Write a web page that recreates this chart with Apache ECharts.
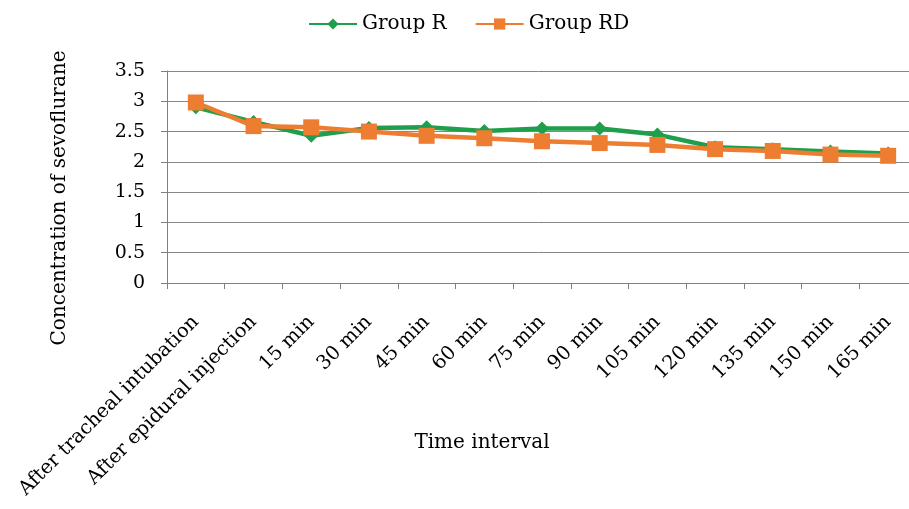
<!DOCTYPE html>
<html>
<head>
<meta charset="utf-8">
<script src="https://cdn.jsdelivr.net/npm/echarts@6/dist/echarts.min.js"></script>
<style>
  html, body { margin: 0; padding: 0; background: #ffffff; overflow: hidden; }
  #chart { width: 909px; height: 509px; }
</style>
</head>
<body>
<div id="chart"></div>
<script>
// Time points after intubation
const categories = [
  'After tracheal intubation', 'After epidural injection', '15 min', '30 min',
  '45 min', '60 min', '75 min', '90 min', '105 min', '120 min', '135 min',
  '150 min', '165 min'
];
// Sevoflurane concentration per group
const groupR  = [2.90, 2.66, 2.43, 2.56, 2.57, 2.51, 2.55, 2.55, 2.45, 2.24, 2.21, 2.17, 2.14];
const groupRD = [2.98, 2.59, 2.57, 2.50, 2.43, 2.39, 2.34, 2.31, 2.28, 2.21, 2.18, 2.12, 2.10];
const yTicks = [0, 0.5, 1, 1.5, 2, 2.5, 3, 3.5];

const FONT = '"DejaVu Serif", "Liberation Serif", serif';
const GREEN = '#1F9E4B';
const ORANGE = '#ED7D31';

const chart = echarts.init(document.getElementById('chart'));
chart.setOption({
  animation: false,
  backgroundColor: '#ffffff',
  textStyle: { fontFamily: FONT, color: '#000' },
  legend: {
    top: 9,
    left: 303,
    itemWidth: 48,
    itemHeight: 14,
    itemGap: 28,
    textStyle: { fontFamily: FONT, fontSize: 20, color: '#000' },
    data: ['Group R', 'Group RD']
  },
  // plot area runs slightly past the right edge of the canvas
  grid: {
    left: 167, width: 750, top: 71, bottom: 226,
    outerBoundsMode: 'none',
    containLabel: false
  },
  xAxis: {
    type: 'category',
    data: categories,
    boundaryGap: true,
    axisLine: { lineStyle: { color: '#808080', width: 1 } },
    axisTick: { show: true, length: 6, lineStyle: { color: '#808080' } },
    axisLabel: {
      rotate: 45,
      interval: 0,
      margin: 36,
      fontFamily: FONT,
      fontSize: 19.5,
      color: '#000'
    }
  },
  yAxis: {
    type: 'value',
    min: yTicks[0],
    max: yTicks[yTicks.length - 1],
    interval: 0.5,
    axisLine: { show: true, lineStyle: { color: '#808080', width: 1 } },
    axisTick: { show: true, length: 6, lineStyle: { color: '#808080' } },
    splitLine: { lineStyle: { color: '#868686', width: 1 } },
    axisLabel: { fontFamily: FONT, fontSize: 19, color: '#000', margin: 22 }
  },
  graphic: [
    {
      type: 'text',
      x: 60, y: 198,
      rotation: Math.PI / 2,
      style: {
        text: 'Concentration of sevoflurane',
        font: '20px ' + FONT,
        fill: '#000',
        textAlign: 'center',
        textVerticalAlign: 'middle'
      }
    },
    {
      type: 'text',
      x: 482, y: 443,
      style: {
        text: 'Time interval',
        font: '20px ' + FONT,
        fill: '#000',
        textAlign: 'center',
        textVerticalAlign: 'middle'
      }
    }
  ],
  series: [
    {
      name: 'Group R',
      type: 'line',
      data: groupR,
      symbol: 'diamond',
      symbolSize: 14,
      itemStyle: { color: GREEN },
      lineStyle: { color: GREEN, width: 4.5 },
      z: 2
    },
    {
      name: 'Group RD',
      type: 'line',
      data: groupRD,
      symbol: 'rect',
      symbolSize: 16,
      itemStyle: { color: ORANGE },
      lineStyle: { color: ORANGE, width: 4.5 },
      z: 3
    }
  ]
});
</script>
</body>
</html>
